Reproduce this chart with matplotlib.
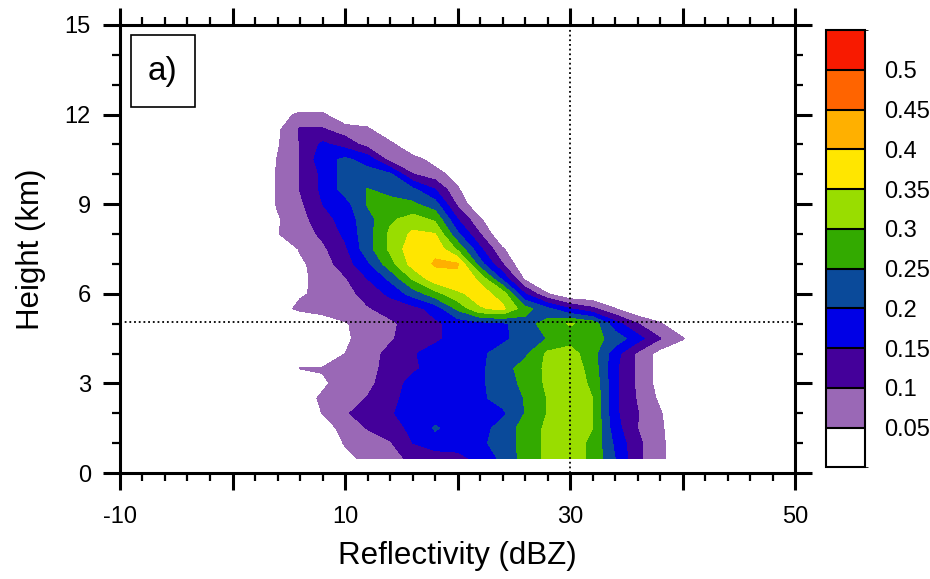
import numpy as np
import matplotlib
matplotlib.use("Agg")
import matplotlib.pyplot as plt
import matplotlib as mpl
from matplotlib.colors import ListedColormap, BoundaryNorm
from matplotlib.patches import Rectangle
from matplotlib.ticker import MultipleLocator

plt.rcParams["font.family"] = ["Liberation Sans", "DejaVu Sans"]

# reflectivity bins (dBZ) and height levels (km)
dbz = [2, 4, 6, 8, 10, 12, 14, 16, 18, 20, 22, 24, 26, 28, 30, 32, 34, 36, 38, 40, 42]
heights = [0.5, 1.0, 1.5, 2.0, 2.5, 3.0, 3.5, 4.0, 4.5, 5.0, 5.5, 6.0, 6.5,
           7.0, 7.5, 8.0, 8.5, 9.0, 9.5, 10.0, 10.5, 11.0, 11.5, 12.0, 12.5]

# frequency per height row (bottom to top), trailing bins are zero
rows = [
    [0, 0, 0, 0, 0.03, 0.07, 0.085, 0.11, 0.12, 0.13, 0.17, 0.21, 0.27, 0.31, 0.32, 0.29, 0.20, 0.11, 0.065],
    [0, 0, 0, 0, 0.055, 0.08, 0.095, 0.15, 0.18, 0.18, 0.19, 0.22, 0.27, 0.31, 0.32, 0.29, 0.19, 0.11, 0.065],
    [0, 0, 0, 0.02, 0.07, 0.102, 0.13, 0.16, 0.205, 0.18, 0.18, 0.22, 0.27, 0.31, 0.32, 0.30, 0.17, 0.10, 0.06],
    [0, 0, 0, 0.052, 0.095, 0.12, 0.145, 0.17, 0.18, 0.18, 0.18, 0.19, 0.252, 0.302, 0.33, 0.302, 0.16, 0.102, 0.055],
    [0, 0, 0.02, 0.06, 0.08, 0.102, 0.135, 0.17, 0.18, 0.18, 0.19, 0.22, 0.252, 0.302, 0.33, 0.30, 0.16, 0.095, 0.04],
    [0, 0, 0, 0.04, 0.075, 0.09, 0.12, 0.17, 0.18, 0.18, 0.19, 0.23, 0.26, 0.31, 0.33, 0.29, 0.16, 0.09, 0.03],
    [0, 0, 0.052, 0.055, 0.07, 0.085, 0.115, 0.14, 0.17, 0.18, 0.19, 0.23, 0.27, 0.31, 0.33, 0.28, 0.16, 0.09, 0.03],
    [0, 0, 0, 0, 0.05, 0.085, 0.11, 0.145, 0.17, 0.18, 0.19, 0.22, 0.24, 0.31, 0.32, 0.27, 0.17, 0.09, 0.03],
    [0, 0, 0, 0, 0.04, 0.075, 0.095, 0.12, 0.14, 0.17, 0.18, 0.19, 0.22, 0.252, 0.28, 0.27, 0.23, 0.17, 0.102, 0.055],
    [0, 0, 0, 0.02, 0.045, 0.075, 0.09, 0.12, 0.14, 0.17, 0.18, 0.19, 0.23, 0.27, 0.305, 0.28, 0.17, 0.102, 0.055],
    [0, 0.03, 0.06, 0.07, 0.08, 0.095, 0.12, 0.13, 0.17, 0.26, 0.345, 0.36, 0.27, 0.21, 0.15, 0.11, 0.052],
    [0, 0, 0.045, 0.06, 0.08, 0.12, 0.16, 0.22, 0.28, 0.34, 0.37, 0.33, 0.15, 0.052],
    [0, 0, 0.04, 0.065, 0.095, 0.15, 0.21, 0.305, 0.38, 0.39, 0.34, 0.19, 0.04],
    [0, 0, 0.04, 0.075, 0.125, 0.19, 0.28, 0.37, 0.405, 0.405, 0.22, 0.102],
    [0, 0, 0.055, 0.09, 0.14, 0.23, 0.31, 0.38, 0.39, 0.29, 0.16, 0.055],
    [0, 0.048, 0.075, 0.11, 0.16, 0.23, 0.31, 0.36, 0.352, 0.21, 0.102],
    [0, 0.045, 0.08, 0.13, 0.17, 0.23, 0.29, 0.32, 0.29, 0.15, 0.055],
    [0, 0.055, 0.09, 0.15, 0.18, 0.255, 0.27, 0.26, 0.22, 0.09],
    [0, 0.055, 0.102, 0.16, 0.22, 0.252, 0.23, 0.21, 0.15, 0.055],
    [0, 0.055, 0.102, 0.16, 0.22, 0.22, 0.21, 0.102, 0.07, 0.03],
    [0, 0.052, 0.102, 0.18, 0.21, 0.18, 0.08, 0.07, 0.03],
    [0, 0.045, 0.102, 0.16, 0.13, 0.08, 0.065],
    [0, 0.04, 0.105, 0.105, 0.075, 0.06],
    [0, 0.03, 0.06, 0.06],
    [0],
]

levels = [0.05, 0.1, 0.15, 0.2, 0.25, 0.3, 0.35, 0.4, 0.45, 0.5, 0.55]
level_labels = ["0.05", "0.1", "0.15", "0.2", "0.25", "0.3", "0.35", "0.4", "0.45", "0.5"]
colors = ["#ffffff", "#9a68b6", "#44009a", "#0000e6", "#0a4a9a", "#33aa00",
          "#99dd00", "#ffe600", "#ffb000", "#ff6400", "#f81a00"]

freq = np.array([r + [0] * (len(dbz) - len(r)) for r in rows])

fig = plt.figure(figsize=(9.3, 5.79), dpi=100)
ax = fig.add_axes([0.129, 0.183, 0.726, 0.774])

ax.contourf(dbz, heights, freq, levels=levels, colors=colors[1:])

dots = (0, (1, 1.6))
ax.axvline(30, color="k", lw=1.3, ls=dots)
ax.axhline(5.05, color="k", lw=1.3, ls=dots)

ax.set_xlim(-10, 50)
ax.set_ylim(0, 15)
ax.set_xticks([-10, 0, 10, 20, 30, 40, 50])
ax.set_xticklabels(["-10", "", "10", "", "30", "", "50"])
ax.set_yticks([0, 3, 6, 9, 12, 15])
ax.xaxis.set_minor_locator(MultipleLocator(2))
ax.yaxis.set_minor_locator(MultipleLocator(1))
ax.tick_params(which="both", direction="out", top=True, right=True)
ax.tick_params(which="major", length=12, width=2.2, labelsize=17, pad=9)
ax.tick_params(axis="x", which="major", pad=12)
ax.tick_params(which="minor", length=6, width=1.6)
for s in ax.spines.values():
    s.set_linewidth(2.2)

ax.set_xlabel("Reflectivity (dBZ)", fontsize=22.5, labelpad=9)
ax.set_ylabel("Height (km)", fontsize=22.5, labelpad=13)

# panel label in a box
ax.add_patch(Rectangle((0.016, 0.817), 0.095, 0.161, transform=ax.transAxes,
                       fc="white", ec="black", lw=1.2, zorder=5))
ax.text(0.0635, 0.897, "a)", transform=ax.transAxes, fontsize=24,
        va="center", ha="center", zorder=6)

# colorbar
cax = fig.add_axes([0.888, 0.193, 0.042, 0.755])
bounds = [0.0] + levels
cb = mpl.colorbar.ColorbarBase(cax, cmap=ListedColormap(colors),
                               norm=BoundaryNorm(bounds, len(colors)),
                               boundaries=bounds, ticks=levels[:-1],
                               spacing="uniform", drawedges=True)
cb.set_ticklabels(level_labels)
cb.outline.set_linewidth(1.5)
cb.dividers.set_linewidth(1.5)
cax.tick_params(length=0, labelsize=17, pad=14)

fig.savefig("out.png", dpi=100)
